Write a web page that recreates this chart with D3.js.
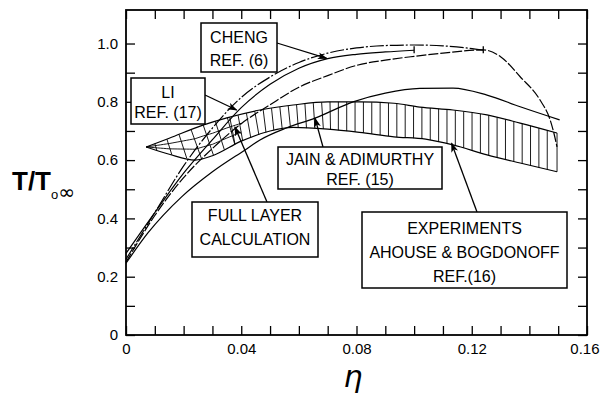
<!DOCTYPE html>
<html>
<head>
<meta charset="utf-8">
<script src="https://cdn.jsdelivr.net/npm/d3@7"></script>
<style>
  body { margin: 0; background: #fff; }
  svg text { font-family: "Liberation Sans", Arial, sans-serif; fill: #000; }
</style>
</head>
<body>
<svg id="chart" width="600" height="395"></svg>
<script>
// ---- data: [eta, T/To∞] ----
const chengRef6 = [[0, 0.26], [0.01, 0.42], [0.02, 0.58], [0.03, 0.71], [0.04, 0.815], [0.05, 0.885],
  [0.06, 0.935], [0.07, 0.967], [0.08, 0.985], [0.09, 0.993], [0.10, 0.995], [0.11, 0.992],
  [0.118, 0.985], [0.124, 0.977]];
const liRef17 = [[0, 0.28], [0.01, 0.42], [0.02, 0.555], [0.03, 0.67], [0.04, 0.78], [0.05, 0.86],
  [0.06, 0.915], [0.07, 0.948], [0.08, 0.963], [0.09, 0.971], [0.10, 0.977]];
const fullLayer = [[0, 0.25], [0.01, 0.41], [0.02, 0.54], [0.03, 0.64], [0.04, 0.725], [0.05, 0.79],
  [0.06, 0.85], [0.07, 0.89], [0.08, 0.925], [0.09, 0.943], [0.10, 0.956], [0.11, 0.967],
  [0.124, 0.978], [0.130, 0.955], [0.1368, 0.886], [0.1437, 0.806], [0.1472, 0.738],
  [0.1485, 0.693], [0.1496, 0.645]];
const jainRef15 = [[0, 0.246], [0.0076, 0.35], [0.0193, 0.474], [0.03, 0.56], [0.0413, 0.635],
  [0.0465, 0.669], [0.0556, 0.71], [0.0656, 0.744], [0.0788, 0.80], [0.09, 0.83], [0.102, 0.846],
  [0.1135, 0.847], [0.1253, 0.823], [0.1368, 0.783], [0.1505, 0.738]];
// experiments band (Ahouse & Bogdonoff)
const expUpper = [[0.007, 0.645], [0.015, 0.675], [0.0267, 0.72], [0.035, 0.745], [0.0465, 0.772],
  [0.058, 0.789], [0.07, 0.80], [0.081, 0.80], [0.093, 0.795], [0.102, 0.782], [0.1135, 0.772],
  [0.1253, 0.755], [0.1368, 0.727], [0.1496, 0.693]];
const expLower = [[0.007, 0.645], [0.015, 0.62], [0.024, 0.60], [0.03, 0.615], [0.04, 0.665],
  [0.05, 0.70], [0.058, 0.712], [0.07, 0.706], [0.081, 0.695], [0.093, 0.68], [0.104, 0.672],
  [0.1135, 0.652], [0.1253, 0.618], [0.1368, 0.59], [0.1496, 0.56]];

const xTickValues = d3.range(17).map(i => i / 100);
const xTickLabels = ["0", "0.04", "0.08", "0.12", "0.16"];
const yTickValues = d3.range(11).map(i => i / 10);
const yTickLabels = ["0", "0.2", "0.4", "0.6", "0.8", "1.0"];

const notes = [
  { lines: ["CHENG", "REF. (6)"], box: [201, 23, 76, 49], base: [42.5, 65.5], from: [277, 43], tip: [0.0697, 0.949] },
  { lines: ["LI", "REF. (17)"], box: [131, 78, 74, 46], base: [97.5, 117.5], from: [205, 95], tip: [0.0384, 0.772] },
  { lines: ["JAIN & ADIMURTHY", "REF. (15)"], box: [278, 147, 164, 42], base: [165, 185], from: [323, 147], tip: [0.0656, 0.744] },
  { lines: ["FULL LAYER", "CALCULATION"], box: [192, 202, 126, 55], base: [221, 245], from: [267, 202], tip: [0.0378, 0.714] },
  { lines: ["EXPERIMENTS", "AHOUSE & BOGDONOFF", "REF.(16)"], box: [362, 212, 205, 76], base: [234, 257.5, 281.5], from: [477, 212], tip: [0.113, 0.658] }
];

const svg = d3.select('#chart');
const x = d3.scaleLinear().domain([0, 0.16]).range([126, 587]);
const y = d3.scaleLinear().domain([0, 1.115]).range([335, 10]);

svg.append('defs').append('marker')
  .attr('id', 'arrow')
  .attr('markerUnits', 'userSpaceOnUse')
  .attr('markerWidth', 10).attr('markerHeight', 7)
  .attr('refX', 9).attr('refY', 3.5)
  .attr('orient', 'auto')
  .append('path')
  .attr('d', 'M0,0 L10,3.5 L0,7 L2.5,3.5 z')
  .attr('fill', '#000');

const line = d3.line()
  .x(d => x(d[0]))
  .y(d => y(d[1]))
  .curve(d3.curveMonotoneX);

// ---- hatched experiment band ----
const topAt = d3.scaleLinear().domain(expUpper.map(d => d[0])).range(expUpper.map(d => d[1])).clamp(true);
const botAt = d3.scaleLinear().domain(expLower.map(d => d[0])).range(expLower.map(d => d[1])).clamp(true);
const etaEnd = expUpper[expUpper.length - 1][0];

const hatch = svg.append('g')
  .attr('stroke', '#000')
  .attr('stroke-width', 0.9)
  .attr('fill', 'none');

function transverse(eta, k) {
  const tx = x(eta), ty = y(topAt(eta));
  const s = (y(topAt(eta + 0.002)) - y(topAt(eta - 0.002))) / (x(eta + 0.002) - x(eta - 0.002));
  const h = y(botAt(eta)) - ty;
  const shift = s < 0 ? -s * h * k : 0;
  const eta2 = Math.min(x.invert(tx + shift), etaEnd);
  return [[tx, ty], [x(eta2), y(botAt(eta2))]];
}

// vertical-ish strokes
for (let eta = 0.036; eta < etaEnd - 0.001; eta += 0.0029) {
  const seg = transverse(eta, 0.7);
  hatch.append('line')
    .attr('x1', seg[0][0]).attr('y1', seg[0][1])
    .attr('x2', seg[1][0]).attr('y2', seg[1][1]);
}
hatch.append('line')
  .attr('x1', x(etaEnd)).attr('y1', y(topAt(etaEnd)))
  .attr('x2', x(etaEnd)).attr('y2', y(botAt(etaEnd)));

// cross-hatched left end
for (let eta = 0.010; eta < 0.038; eta += 0.0042) {
  const seg = transverse(eta, 0.9);
  hatch.append('line')
    .attr('x1', seg[0][0]).attr('y1', seg[0][1])
    .attr('x2', seg[1][0]).attr('y2', seg[1][1]);
}
[0.33, 0.66].forEach(f => {
  const pts = d3.range(0.007, 0.0401, 0.001).map(e => [e, topAt(e) + f * (botAt(e) - topAt(e))]);
  hatch.append('path').attr('d', line(pts));
});

svg.append('path').attr('d', line(expUpper))
  .attr('fill', 'none').attr('stroke', '#000').attr('stroke-width', 1.2);
svg.append('path').attr('d', line(expLower))
  .attr('fill', 'none').attr('stroke', '#000').attr('stroke-width', 1.2);

// ---- curves ----
const curves = [
  { data: chengRef6, dash: '14,2,2,2' },
  { data: liRef17, dash: null },
  { data: fullLayer, dash: '10,2' },
  { data: jainRef15, dash: null }
];
curves.forEach(c => {
  svg.append('path')
    .attr('d', line(c.data))
    .attr('fill', 'none')
    .attr('stroke', '#000')
    .attr('stroke-width', 1.2)
    .attr('stroke-dasharray', c.dash);
});

// end ticks on curves
[liRef17[liRef17.length - 1], chengRef6[chengRef6.length - 1]].forEach(d => {
  svg.append('line')
    .attr('x1', x(d[0])).attr('x2', x(d[0]))
    .attr('y1', y(d[1]) - 4).attr('y2', y(d[1]) + 3)
    .attr('stroke', '#000').attr('stroke-width', 1.3);
});

// ---- axes ----
const bottomAxis = svg.append('g')
  .attr('transform', `translate(0,${y(0)})`)
  .call(d3.axisBottom(x).tickValues(xTickValues).tickSize(-9).tickPadding(8)
    .tickFormat((d, i) => i % 4 === 0 ? xTickLabels[i / 4] : ''));
const leftAxis = svg.append('g')
  .attr('transform', `translate(${x(0)},0)`)
  .call(d3.axisLeft(y).tickValues(yTickValues).tickSize(-9).tickPadding(8)
    .tickFormat((d, i) => i % 2 === 0 ? yTickLabels[i / 2] : ''));
const topAxis = svg.append('g')
  .attr('transform', `translate(0,${y.range()[1]})`)
  .call(d3.axisTop(x).tickValues(xTickValues).tickSize(-9).tickFormat(''));
const rightAxis = svg.append('g')
  .attr('transform', `translate(${x(0.16)},0)`)
  .call(d3.axisRight(y).tickValues(yTickValues).tickSize(-9).tickFormat(''));

[bottomAxis, leftAxis, topAxis, rightAxis].forEach(g => {
  g.select('.domain').remove();
  g.selectAll('line').attr('stroke', '#000').attr('stroke-width', 1.3);
  g.selectAll('text').attr('font-size', 15).attr('fill', '#000')
    .attr('font-family', '"Liberation Sans", Arial, sans-serif');
});
// keep the last x label inside the page
bottomAxis.selectAll('text').filter(d => d === 0.16).attr('text-anchor', 'end').attr('dx', 12);

svg.append('rect')
  .attr('x', x(0)).attr('y', y.range()[1])
  .attr('width', x(0.16) - x(0)).attr('height', y(0) - y.range()[1])
  .attr('fill', 'none').attr('stroke', '#000').attr('stroke-width', 1.8);

// axis titles
const yt = svg.append('text').attr('x', 12).attr('y', 190);
yt.append('tspan').text('T/T').attr('font-size', 26).attr('font-weight', 'bold');
yt.append('tspan').text('o').attr('font-size', 13).attr('dy', 9);
yt.append('tspan').text('∞').attr('font-size', 20).attr('font-family', '"DejaVu Sans"');

svg.append('text')
  .attr('x', 353).attr('y', 387)
  .attr('text-anchor', 'middle')
  .attr('font-size', 30)
  .attr('font-style', 'italic')
  .style('font-family', '"DejaVu Sans", sans-serif')
  .text('η');

// ---- annotation boxes and arrows ----
notes.forEach(n => {
  svg.append('line')
    .attr('x1', n.from[0]).attr('y1', n.from[1])
    .attr('x2', x(n.tip[0])).attr('y2', y(n.tip[1]))
    .attr('stroke', '#000').attr('stroke-width', 1.3)
    .attr('marker-end', 'url(#arrow)');
  svg.append('rect')
    .attr('x', n.box[0]).attr('y', n.box[1])
    .attr('width', n.box[2]).attr('height', n.box[3])
    .attr('fill', '#fff').attr('stroke', '#000').attr('stroke-width', 1.5);
  n.lines.forEach((t, i) => {
    svg.append('text')
      .attr('x', n.box[0] + n.box[2] / 2)
      .attr('y', n.base[i])
      .attr('text-anchor', 'middle')
      .attr('font-size', 16)
      .text(t);
  });
});
</script>
</body>
</html>
